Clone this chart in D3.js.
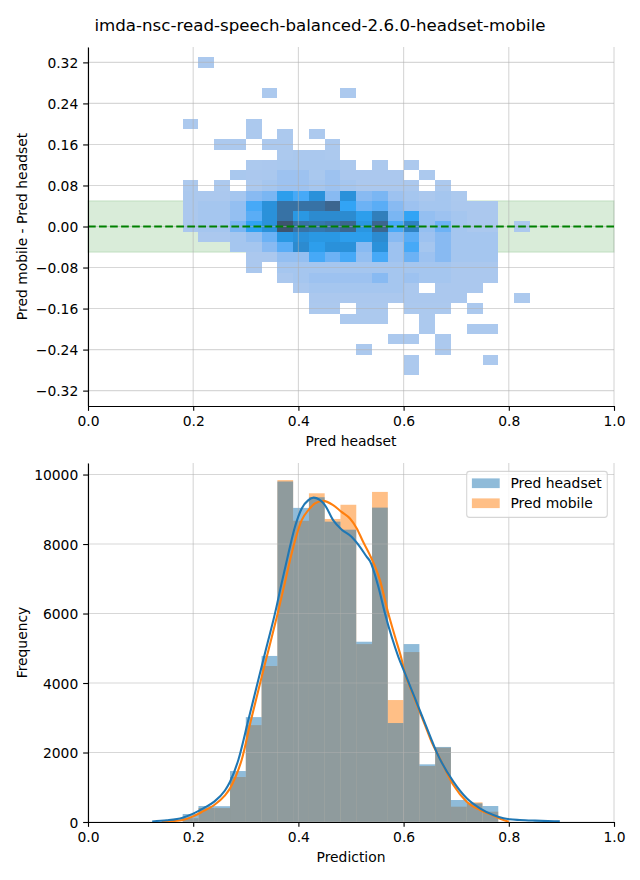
<!DOCTYPE html>
<html><head><meta charset="utf-8">
<script src="https://cdn.jsdelivr.net/npm/d3@7"></script>
<style>
body{margin:0;background:#fff}
svg{display:block}
text{font-family:"DejaVu Sans",sans-serif;fill:#000}
</style>
</head><body>
<svg id="chart" width="640" height="880"></svg>
<script>
// ---------------- DATA ----------------
const titleText = "imda-nsc-read-speech-balanced-2.6.0-headset-mobile";
const binLefts = [0.18,0.21,0.24,0.27,0.30,0.33,0.36,0.39,0.42,0.45,0.48,0.51,0.54,0.57,0.60,0.63,0.66,0.69,0.72,0.75,0.78,0.81];
const binWidth = 0.03;
const diffCenters = [0.32,0.30,0.28,0.26,0.24,0.22,0.20,0.18,0.16,0.14,0.12,0.10,0.08,0.06,0.04,0.02,0.00,-0.02,-0.04,-0.06,-0.08,-0.10,-0.12,-0.14,-0.16,-0.18,-0.20,-0.22,-0.24,-0.26,-0.28];
const diffBinHeight = 0.02;
// 2D histogram counts: rows = diffCenters, columns = binLefts
const heatCounts = [
 [0,24,0,0,0,0,0,0,0,0,0,0,0,0,0,0,0,0,0,0,0,0],
 [0,0,0,0,0,0,0,0,0,0,0,0,0,0,0,0,0,0,0,0,0,0],
 [0,0,0,0,0,0,0,0,0,0,0,0,0,0,0,0,0,0,0,0,0,0],
 [0,0,0,0,0,24,0,0,0,0,24,0,0,0,0,0,0,0,0,0,0,0],
 [0,0,0,0,0,0,0,0,0,0,0,0,0,0,0,0,0,0,0,0,0,0],
 [0,0,0,0,0,0,0,0,0,0,0,0,0,0,0,0,0,0,0,0,0,0],
 [24,0,0,0,24,0,0,0,0,0,0,0,0,0,0,0,0,0,0,0,0,0],
 [0,0,0,0,24,0,24,0,24,0,0,0,0,0,0,0,0,0,0,0,0,0],
 [0,0,24,24,0,24,24,0,0,24,0,0,0,0,0,0,0,0,0,0,0,0],
 [0,0,0,0,0,0,24,36,36,24,0,0,0,0,0,0,0,0,0,0,0,0],
 [0,0,0,0,24,30,40,40,40,40,24,0,24,0,24,0,0,0,0,0,0,0],
 [0,0,0,40,30,36,96,96,40,96,30,30,30,30,0,24,0,0,0,0,0,0],
 [24,0,24,0,24,60,96,96,60,96,60,30,30,30,30,0,24,0,0,0,0,0],
 [30,30,30,60,180,228,480,372,600,180,600,180,228,96,60,30,60,24,0,0,0,0],
 [30,60,60,132,372,600,900,900,900,1020,420,276,324,180,96,60,60,30,30,30,0,0],
 [30,60,60,132,324,600,900,540,660,660,660,480,780,228,420,132,96,60,30,30,0,0],
 [30,60,60,228,440,600,1200,900,840,900,1020,560,1020,372,744,132,276,60,30,30,0,24],
 [0,30,30,60,132,276,540,600,540,540,480,480,660,180,324,96,180,60,60,60,0,0],
 [0,0,0,60,60,180,324,660,480,600,600,180,600,96,372,60,180,60,60,60,0,0],
 [0,0,0,0,30,30,132,132,372,276,372,132,372,96,276,96,180,60,60,60,0,0],
 [0,0,0,0,30,0,60,60,60,60,60,60,60,60,60,60,60,30,30,30,0,0],
 [0,0,0,0,0,0,30,60,96,96,96,96,180,60,96,60,60,30,30,30,0,0],
 [0,0,0,0,0,0,0,30,60,60,60,60,60,60,30,0,30,30,30,0,0,0],
 [0,0,0,0,0,0,0,0,30,30,30,30,30,30,30,30,30,30,0,0,0,24],
 [0,0,0,0,0,0,0,0,24,24,0,24,24,0,24,24,24,0,24,0,0,0],
 [0,0,0,0,0,0,0,0,0,0,24,24,24,0,0,24,0,0,0,0,0,0],
 [0,0,0,0,0,0,0,0,0,0,0,0,0,0,0,24,0,0,24,24,0,0],
 [0,0,0,0,0,0,0,0,0,0,0,0,0,24,24,0,24,0,0,0,0,0],
 [0,0,0,0,0,0,0,0,0,0,0,24,0,0,0,0,24,0,0,0,0,0],
 [0,0,0,0,0,0,0,0,0,0,0,0,0,0,24,0,0,0,0,24,0,0],
 [0,0,0,0,0,0,0,0,0,0,0,0,0,0,24,0,0,0,0,0,0,0]
];
const bandHalfWidth = 0.05;

// 1D histograms (first 20 bins of binLefts)
const seriesNames = ["Pred headset", "Pred mobile"];
const headsetCounts = [230,460,455,1467,3019,4779,9800,9040,9346,8644,8413,5188,9048,2848,5121,1660,2160,633,537,460];
const mobileCounts  = [110,403,400,1295,2788,4490,9840,8669,9460,8721,9130,5120,9500,3510,4891,1611,2140,441,566,297];

// KDE curves: [prediction, frequency]
const headsetKde = [[0.122,15],[0.15,48],[0.18,125],[0.20,240],[0.22,400],[0.24,585],[0.26,900],[0.27,1160],[0.2858,1784],[0.3048,2934],[0.3175,3702],[0.330,4469],[0.3428,5236],[0.3555,6004],[0.368,6867],[0.381,7730],[0.3935,8496],[0.4063,9025],[0.419,9264],[0.429,9335],[0.45,9130],[0.466,8690],[0.482,8420],[0.501,8210],[0.517,7920],[0.530,7630],[0.536,7510],[0.552,6770],[0.5646,6000],[0.5773,5330],[0.590,4755],[0.6027,4278],[0.6154,3797],[0.628,3317],[0.6407,2840],[0.6534,2359],[0.663,2005],[0.6946,1160],[0.720,681],[0.745,393],[0.7706,201],[0.79,106],[0.802,77],[0.821,58],[0.85,40],[0.897,20]];
const mobileKde = [[0.14,5],[0.16,25],[0.18,58],[0.20,163],[0.22,320],[0.24,489],[0.26,760],[0.27,968],[0.28,1280],[0.2921,1784],[0.3099,2934],[0.3225,3702],[0.335,4469],[0.348,5236],[0.3606,6004],[0.374,6867],[0.3872,7730],[0.4063,8688],[0.419,8976],[0.4316,9168],[0.447,9243],[0.466,9120],[0.482,8927],[0.498,8735],[0.511,8450],[0.523,8064],[0.536,7681],[0.555,6962],[0.571,6000],[0.5837,5330],[0.595,4755],[0.6027,4278],[0.6154,3760],[0.628,3270],[0.6407,2790],[0.6534,2300],[0.669,1830],[0.6946,1064],[0.72,585],[0.745,345],[0.7706,182],[0.79,58],[0.80,10]];

const xTicks = [0,0.2,0.4,0.6,0.8,1.0];
const yTicksTop = [-0.32,-0.24,-0.16,-0.08,0,0.08,0.16,0.24,0.32];
const yTicksBottom = [0,2000,4000,6000,8000,10000];

// ---------------- HUSL colormap (seaborn-style) ----------------
const M = [[3.240969941904521,-1.537383177570093,-0.498610760293],[-0.96924363628087,1.87596750150772,0.041555057407175],[0.055630079696993,-0.20397695888897,1.056971514242878]];
const MINV = [[0.41239079926595,0.35758433938387,0.18048078840183],[0.21263900587151,0.71516867876775,0.072192315360733],[0.019330818715591,0.11919477979462,0.95053215224966]];
const refU = 0.19783000664283, refV = 0.46831999493879, kappa = 903.2962962, eps = 0.0088564516;
function bounds(L){const sub1=Math.pow(L+16,3)/1560896;const sub2=sub1>eps?sub1:L/kappa;const res=[];
 for(const [m1,m2,m3] of M){for(const t of [0,1]){const top1=(284517*m1-94839*m3)*sub2;const top2=(838422*m3+769860*m2+731718*m1)*L*sub2-769860*t*L;const bottom=(632260*m3-126452*m2)*sub2+126452*t;res.push([top1/bottom,top2/bottom]);}}return res;}
function maxChroma(L,H){const hr=H/180*Math.PI;let mn=Infinity;for(const [s,i] of bounds(L)){const len=i/(Math.sin(hr)-s*Math.cos(hr));if(len>=0)mn=Math.min(mn,len);}return mn;}
function toLin(c){return c>0.04045?Math.pow((c+0.055)/1.055,2.4):c/12.92;}
function fromLin(c){return c<=0.0031308?12.92*c:1.055*Math.pow(c,1/2.4)-0.055;}
function rgbToHusl(r,g,b){const l=[toLin(r),toLin(g),toLin(b)];
 const X=MINV[0][0]*l[0]+MINV[0][1]*l[1]+MINV[0][2]*l[2];
 const Y=MINV[1][0]*l[0]+MINV[1][1]*l[1]+MINV[1][2]*l[2];
 const Z=MINV[2][0]*l[0]+MINV[2][1]*l[1]+MINV[2][2]*l[2];
 const L=Y<=eps?Y*kappa:116*Math.cbrt(Y)-16;const d=X+15*Y+3*Z;
 const U=13*L*(4*X/d-refU),V=13*L*(9*Y/d-refV);const C=Math.hypot(U,V);
 let H=Math.atan2(V,U)*180/Math.PI;if(H<0)H+=360;return [H,C/maxChroma(L,H)*100,L];}
function huslToRgb(H,S,L){if(L>99.9999999)return [1,1,1];if(L<1e-8)return [0,0,0];
 const C=maxChroma(L,H)/100*S;const hr=H/180*Math.PI;const U=C*Math.cos(hr),V=C*Math.sin(hr);
 const Y=L<=8?L/kappa:Math.pow((L+16)/116,3);const vU=U/(13*L)+refU,vV=V/(13*L)+refV;
 const X=0-(9*Y*vU)/((vU-4)*vV-vU*vV);const Z=(9*Y-15*vV*Y-vV*X)/(3*vV);
 return M.map(r=>Math.min(1,Math.max(0,fromLin(r[0]*X+r[1]*Y+r[2]*Z))));}
const baseHusl = rgbToHusl(31/255,119/255,180/255);
const cmapColors = d3.range(256).map(j=>{const xx=-1+2*j/293;const c=huslToRgb(baseHusl[0],baseHusl[1]*Math.cos(xx),35+45*j/255);
 return d3.rgb(c[0]*255,c[1]*255,c[2]*255).formatHex();}).reverse();

// ---------------- LAYOUT ----------------
const svg = d3.select("#chart");
const FS = 13.89, TICK = 4.86, LW = 1.11;
const left = 88, right = 614;
const top1 = 47, bot1 = 406, top2 = 463, bot2 = 822;
const C0 = "#1f77b4", C1 = "#ff7f0e";

svg.append("text").attr("x",320).attr("y",31).attr("text-anchor","middle").attr("font-size",16.67).text(titleText);

const x = d3.scaleLinear().domain([0,1]).range([left,right]);
const yTop = d3.scaleLinear().domain([-0.35,0.35]).range([bot1,top1]);
const allMax = d3.max([...headsetCounts,...mobileCounts]);
const yBot = d3.scaleLinear().domain([0,allMax*1.05]).range([bot2,top2]);

function fmtTop(v){return (v<0?"\u2212":"")+Math.abs(v).toFixed(2);}

function grid(g, yScale, yTicks, y0, y1){
  const gg = g.append("g").attr("stroke","#b0b0b0").attr("stroke-opacity",0.5).attr("stroke-width",LW);
  xTicks.forEach(t=>gg.append("line").attr("x1",x(t)).attr("x2",x(t)).attr("y1",y0).attr("y2",y1));
  yTicks.forEach(t=>gg.append("line").attr("x1",left).attr("x2",right).attr("y1",yScale(t)).attr("y2",yScale(t)));
}
function axes(yScale, yTicks, fmt, yb, xlabel, ylabel, ymid){
  const ax = svg.append("g").attr("transform",`translate(0,${yb})`)
    .call(d3.axisBottom(x).tickValues(xTicks).tickFormat(d3.format(".1f")).tickSize(TICK).tickPadding(TICK).tickSizeOuter(0));
  const ay = svg.append("g").attr("transform",`translate(${left},0)`)
    .call(d3.axisLeft(yScale).tickValues(yTicks).tickFormat(fmt).tickSize(TICK).tickPadding(TICK).tickSizeOuter(0));
  [ax,ay].forEach(a=>{a.selectAll("path,line").attr("stroke","#000").attr("stroke-width",LW);
    a.selectAll("text").attr("font-size",FS).attr("font-family","DejaVu Sans").attr("fill","#000");});
  ay.selectAll("text").attr("dy","0.36em");
  ax.selectAll("text").attr("dy","0.76em");
  svg.append("text").attr("x",(left+right)/2).attr("y",yb+39.7).attr("text-anchor","middle").attr("font-size",FS).text(xlabel);
  svg.append("text").attr("transform",`translate(26.5,${ymid}) rotate(-90)`).attr("text-anchor","middle").attr("font-size",FS).text(ylabel);
}

// ---------------- TOP PANEL ----------------
const gTop = svg.append("g");
gTop.append("rect").attr("x",x(0)).attr("width",x(1)-x(0)).attr("y",yTop(bandHalfWidth)).attr("height",yTop(-bandHalfWidth)-yTop(bandHalfWidth))
  .attr("fill","#008000").attr("fill-opacity",0.15).attr("stroke","#008000").attr("stroke-opacity",0.15).attr("stroke-width",LW);

const cells = [];
heatCounts.forEach((row,ri)=>row.forEach((v,ci)=>{ if(v>0) cells.push({c:diffCenters[ri], x0:binLefts[ci], v}); }));
const color = d3.scaleQuantize().domain([d3.min(cells,d=>d.v), d3.max(cells,d=>d.v)]).range(cmapColors);
gTop.append("g").attr("shape-rendering","crispEdges").selectAll("rect").data(cells).join("rect")
  .attr("x",d=>x(d.x0)).attr("width",d=>x(d.x0+binWidth)-x(d.x0))
  .attr("y",d=>yTop(d.c+diffBinHeight/2)).attr("height",d=>yTop(d.c-diffBinHeight/2)-yTop(d.c+diffBinHeight/2))
  .attr("fill",d=>color(d.v));
grid(gTop, yTop, yTicksTop, top1, bot1);
gTop.append("line").attr("x1",x(0)).attr("x2",x(1)).attr("y1",yTop(0)).attr("y2",yTop(0))
  .attr("stroke","#008000").attr("stroke-width",2.08).attr("stroke-dasharray","7.7,3.33");
axes(yTop, yTicksTop, fmtTop, bot1, "Pred headset", "Pred mobile - Pred headset", (top1+bot1)/2);

// ---------------- BOTTOM PANEL ----------------
const gBot = svg.append("g");
const bars = (counts,col)=>gBot.append("g").selectAll("rect").data(counts).join("rect")
  .attr("x",(d,i)=>x(binLefts[i])).attr("width",(d,i)=>x(binLefts[i]+binWidth)-x(binLefts[i]))
  .attr("y",d=>yBot(d)).attr("height",d=>yBot(0)-yBot(d)).attr("fill",col).attr("fill-opacity",0.5);
bars(mobileCounts, C1);
bars(headsetCounts, C0);
grid(gBot, yBot, yTicksBottom, top2, bot2);
const line = d3.line().x(d=>x(d[0])).y(d=>yBot(d[1])).curve(d3.curveMonotoneX);
gBot.append("path").attr("d",line(mobileKde)).attr("fill","none").attr("stroke",C1).attr("stroke-width",2.08);
gBot.append("path").attr("d",line(headsetKde)).attr("fill","none").attr("stroke",C0).attr("stroke-width",2.08);
axes(yBot, yTicksBottom, d3.format("d"), bot2, "Prediction", "Frequency", (top2+bot2)/2);

// legend
const lg = svg.append("g");
lg.append("rect").attr("x",466.7).attr("y",471.4).attr("width",140.6).attr("height",46).attr("rx",2.8)
  .attr("fill","#fff").attr("fill-opacity",0.8).attr("stroke","#cccccc").attr("stroke-opacity",0.8).attr("stroke-width",LW);
[[seriesNames[0],C0],[seriesNames[1],C1]].forEach(([name,col],i)=>{
  const cy = 483.3 + i*20;
  lg.append("rect").attr("x",471.9).attr("y",cy-4.9).attr("width",27.8).attr("height",9.7).attr("fill",col).attr("fill-opacity",0.5);
  lg.append("text").attr("x",510.5).attr("y",cy+5).attr("font-size",FS).text(name);
});
</script>
</body></html>
